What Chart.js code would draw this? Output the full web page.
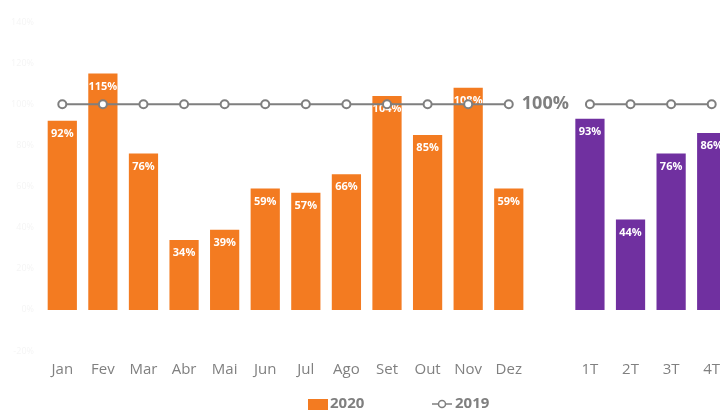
<!DOCTYPE html>
<html lang="pt">
  <head>
    <meta charset="UTF-8" />
    <title>2020 vs 2019</title>
    <script src="https://cdn.jsdelivr.net/npm/chart.js@4/dist/chart.umd.min.js"></script>
    <style>
      body { margin: 0; background: #fff; }
      #wrap { width: 720px; height: 410px; overflow: hidden; }
    </style>
  </head>
  <body>
    <div id="wrap">
      <canvas id="myChart" width="800" height="410"></canvas>
    </div>
    <script>
      // categories
      const months = ['Jan','Fev','Mar','Abr','Mai','Jun','Jul','Ago','Set','Out','Nov','Dez'];
      const quarters = ['1T','2T','3T','4T'];
      const labels = [...months, '', ...quarters];

      // 2020 values (%), months then quarters
      const values2020 = [92, 115, 76, 34, 39, 59, 57, 66, 104, 85, 108, 59];
      const valuesQuarters = [93, 44, 76, 86];
      const bars = [...values2020, null, ...valuesQuarters];

      // 2019 reference line
      const values2019 = [100,100,100,100,100,100,100,100,100,100,100,100, null, 100,100,100,100];

      const yTicks = { min: -20, max: 140, step: 20 };

      const orange = '#F37B21';
      const purple = '#7030A0';
      const grey = '#7F7F7F';
      const font = "'Open Sans', 'Noto Sans', sans-serif";

      // white % labels inside bars, plus the "100%" tag in the gap
      const barLabels = {
        id: 'barLabels',
        afterDatasetDraw(chart, args) {
          if (args.meta.type !== 'bar') return;
          const ctx = chart.ctx;
          ctx.save();
          ctx.fillStyle = '#fff';
          ctx.font = 'bold 11px ' + font;
          ctx.textAlign = 'center';
          ctx.textBaseline = 'middle';
          args.meta.data.forEach((el, i) => {
            const v = bars[i];
            if (v == null) return;
            ctx.fillText(v + '%', el.x, el.y + 13);
          });
          ctx.restore();
        },
        afterDraw(chart) {
          const ctx = chart.ctx;
          const x = chart.scales.x.getPixelForValue(12);
          const y = chart.scales.y.getPixelForValue(100);
          ctx.save();
          ctx.fillStyle = grey;
          ctx.font = 'bold 18px ' + font;
          ctx.textAlign = 'center';
          ctx.textBaseline = 'middle';
          ctx.fillText('100%', x - 4, y);

          // legend
          const cx = chart.width / 2;
          const ly = 404;
          ctx.font = 'bold 15px ' + font;
          ctx.textAlign = 'left';
          ctx.fillStyle = orange;
          ctx.fillRect(cx - 92, ly - 5, 20, 11);
          ctx.fillStyle = grey;
          ctx.fillText('2020', cx - 70, ly);
          ctx.strokeStyle = grey;
          ctx.lineWidth = 1.5;
          ctx.beginPath();
          ctx.moveTo(cx + 32, ly);
          ctx.lineTo(cx + 52, ly);
          ctx.stroke();
          ctx.beginPath();
          ctx.arc(cx + 42, ly, 3.5, 0, Math.PI * 2);
          ctx.fillStyle = '#fff';
          ctx.fill();
          ctx.stroke();
          ctx.fillStyle = grey;
          ctx.fillText('2019', cx + 55, ly);
          ctx.restore();
        }
      };

      const ctx = document.getElementById('myChart').getContext('2d');
      const myChart = new Chart(ctx, {
        type: 'bar',
        data: {
          labels: labels,
          datasets: [
            {
              type: 'line',
              label: '2019',
              data: values2019,
              borderColor: grey,
              borderWidth: 2,
              pointRadius: 4,
              pointBorderWidth: 2,
              pointBackgroundColor: '#fff',
              pointBorderColor: grey,
              spanGaps: false,
              tension: 0,
              order: 0
            },
            {
              type: 'bar',
              label: '2020',
              data: bars,
              backgroundColor: (c) => (c.dataIndex > 12 ? purple : orange),
              categoryPercentage: 0.72,
              barPercentage: 1,
              order: 1
            }
          ]
        },
        options: {
          responsive: false,
          animation: false,
          layout: { padding: { left: 0, right: 68, top: 22, bottom: 29 } },
          plugins: {
            legend: { display: false },
            tooltip: { enabled: false }
          },
          scales: {
            x: {
              offset: true,
              grid: { display: false, drawTicks: false },
              border: { display: false },
              ticks: { color: '#808080', font: { size: 15, family: font }, padding: 10 },
              afterFit(scale) { scale.height = 30; }
            },
            y: {
              min: yTicks.min,
              max: yTicks.max,
              grid: { display: false, drawTicks: false },
              border: { display: false },
              ticks: {
                stepSize: yTicks.step,
                color: '#f5f5f5',
                font: { size: 9, family: font },
                padding: 8,
                callback: (v) => v + '%'
              },
              afterFit(scale) { scale.width = 42; }
            }
          }
        },
        plugins: [barLabels]
      });
    </script>
  </body>
</html>
